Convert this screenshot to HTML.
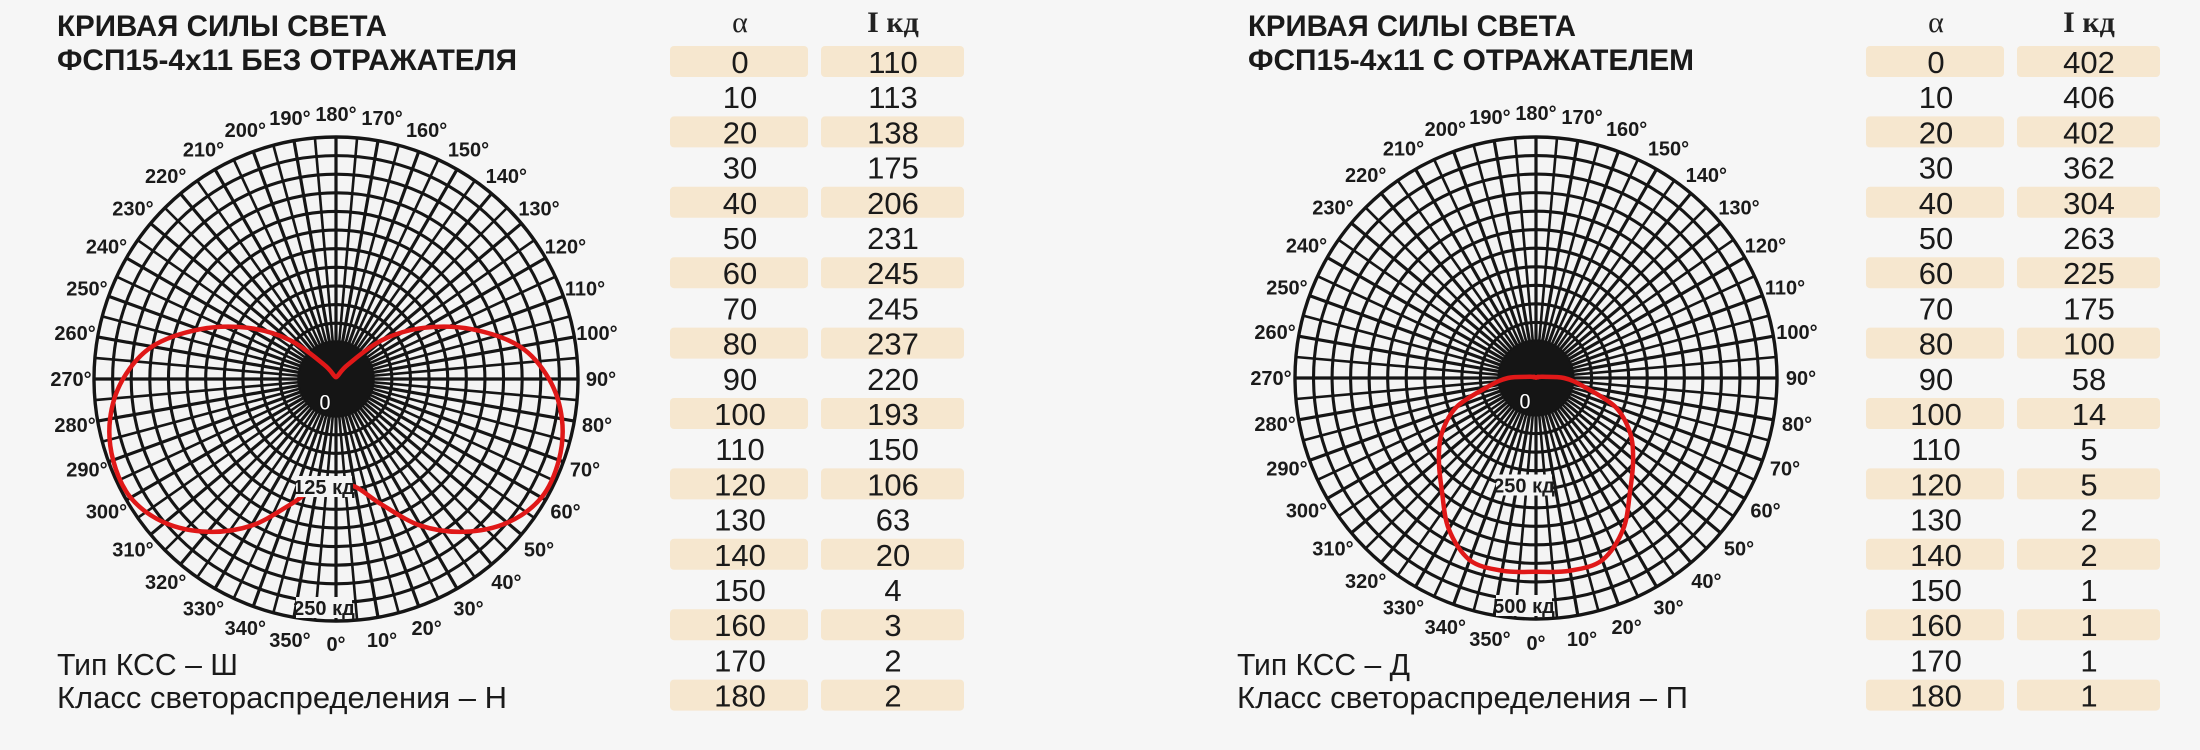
<!DOCTYPE html>
<html><head><meta charset="utf-8"><style>
html,body{margin:0;padding:0;background:#f6f6f6}
svg{display:block}
.t{font-family:"Liberation Sans Narrow","Liberation Sans",sans-serif;fill:#1a1a1a}
.ttl{font-weight:bold;font-size:30px}
.lab{font-weight:bold;font-size:20px}
.num{font-size:31px}
.hd{font-family:"Liberation Serif",serif;font-size:30px;fill:#222}
</style></head><body>
<svg id="s" width="2200" height="750" viewBox="0 0 2200 750" xmlns="http://www.w3.org/2000/svg">
<rect width="2200" height="750" fill="#f6f6f6"/>
<text class="t ttl" x="57" y="36" textLength="330" lengthAdjust="spacingAndGlyphs">КРИВАЯ СИЛЫ СВЕТА</text>
<text class="t ttl" x="57" y="70" textLength="460" lengthAdjust="spacingAndGlyphs">ФСП15-4x11 БЕЗ ОТРАЖАТЕЛЯ</text>
<text class="t" font-size="31" x="57" y="675" textLength="181" lengthAdjust="spacingAndGlyphs">Тип КСС – Ш</text>
<text class="t" font-size="31" x="57" y="708" textLength="450" lengthAdjust="spacingAndGlyphs">Класс светораспределения – Н</text>
<text class="t ttl" x="1248" y="36" textLength="328" lengthAdjust="spacingAndGlyphs">КРИВАЯ СИЛЫ СВЕТА</text>
<text class="t ttl" x="1248" y="70" textLength="446" lengthAdjust="spacingAndGlyphs">ФСП15-4x11 С ОТРАЖАТЕЛЕМ</text>
<text class="t" font-size="31" x="1237" y="675" textLength="173" lengthAdjust="spacingAndGlyphs">Тип КСС – Д</text>
<text class="t" font-size="31" x="1237" y="708" textLength="451" lengthAdjust="spacingAndGlyphs">Класс светораспределения – П</text>
</svg>
<script>
const angles = [0,10,20,30,40,50,60,70,80,90,100,110,120,130,140,150,160,170,180];
const intensityLeft = [110,113,138,175,206,231,245,245,237,220,193,150,106,63,20,4,3,2,2];
const intensityRight = [402,406,402,362,304,263,225,175,100,58,14,5,5,2,2,1,1,1,1];
const maxLeft = 250, maxRight = 500;
const scaleLabelsLeft = ["125 кд","250 кд"];
const scaleLabelsRight = ["250 кд","500 кд"];

const NS="http://www.w3.org/2000/svg";
const svg=document.getElementById('s');
function mk(tag,attrs,parent){const e=document.createElementNS(NS,tag);for(const k in attrs)e.setAttribute(k,attrs[k]);(parent||svg).appendChild(e);return e;}

function polar(cx,cy,R,vals,maxV,labels,side){
  const g=mk('g',{});
  
  
  mk('circle',{cx:cx,cy:cy,r:R,fill:'#f4f4f4'},g);
  const rr=v=>v/maxV*R;
  const pt=(a,v,s)=>{const t=a*Math.PI/180;return [cx+s*rr(v)*Math.sin(t),cy+rr(v)*Math.cos(t)];};
  const nR=13;
  for(let i=1;i<=nR;i++){
    const c=mk('circle',{cx:cx,cy:cy,r:R*i/nR,fill:'none',stroke:'#151515','stroke-width':i==nR?3.4:3.1},g);
    
    
  }
  for(let a=0;a<360;a+=5){
    const t=a*Math.PI/180;
    const l=mk('line',{x1:cx,y1:cy,x2:cx+R*Math.sin(t),y2:cy+R*Math.cos(t),stroke:'#151515','stroke-width':a%10==0?3.2:2.6},g);
    
    
  }
  mk('circle',{cx:cx,cy:cy,r:37,fill:'#151515'},g);
  for(let a=0;a<360;a+=10){
    const t=a*Math.PI/180, L=265;
    const tt=mk('text',{x:cx+L*Math.sin(t),y:cy+L*Math.cos(t)+7,'text-anchor':'middle',class:'t lab'},g);
    tt.textContent=a+'°';
    
    
  }
  const pts=[];
  for(let i=0;i<angles.length;i++)pts.push(pt(angles[i],vals[i],1));
  for(let i=angles.length-2;i>0;i--)pts.push(pt(angles[i],vals[i],-1));
  const n=pts.length;let d='M'+pts[0][0].toFixed(1)+','+pts[0][1].toFixed(1);
  for(let i=0;i<n;i++){
    const p0=pts[(i-1+n)%n],p1=pts[i],p2=pts[(i+1)%n],p3=pts[(i+2)%n];
    const c1=[p1[0]+(p2[0]-p0[0])/6,p1[1]+(p2[1]-p0[1])/6];
    const c2=[p2[0]-(p3[0]-p1[0])/6,p2[1]-(p3[1]-p1[1])/6];
    d+=' C'+c1[0].toFixed(1)+','+c1[1].toFixed(1)+' '+c2[0].toFixed(1)+','+c2[1].toFixed(1)+' '+p2[0].toFixed(1)+','+p2[1].toFixed(1);
  }
  const cv=mk('path',{d:d+'Z',fill:'none',stroke:'#e01818','stroke-width':4.5,'stroke-linejoin':'round'},g);
  
  
  [[labels[0],maxV/2],[labels[1],maxV]].forEach((s,k)=>{
    const y=cy+rr(s[1])-6;
    mk('rect',{x:cx-40,y:y-18,width:56,height:21,fill:'#f4f4f4'},g);
    const t=mk('text',{x:cx-12,y:y,'text-anchor':'middle',class:'t lab'},g);
    t.textContent=s[0];
    
    
  });
  const z=mk('text',{x:cx-11,y:cy+31,'text-anchor':'middle',class:'t',style:'font-weight:bold;font-size:22px;fill:#fff;stroke:#111;stroke-width:1'},g);
  z.textContent='0';
  
  
}
function table(ax,ix,vals,side){
  const g=mk('g',{});
  
  
  const h1=mk('text',{x:ax+70,y:32,'text-anchor':'middle',class:'hd'},g);h1.textContent='α';
  
  
  const h2=mk('text',{x:ix+72,y:32,'text-anchor':'middle',class:'hd','font-weight':'bold'},g);h2.textContent='I кд';
  
  
  for(let i=0;i<angles.length;i++){
    const y=62+i*35.2;
    if(i%2==0){
      mk('rect',{x:ax,y:y-16,width:138,height:31,rx:4,fill:'#f6e7cf'},g);
      mk('rect',{x:ix,y:y-16,width:143,height:31,rx:4,fill:'#f6e7cf'},g);
    }
    const a=mk('text',{x:ax+70,y:y+11,'text-anchor':'middle',class:'t num'},g);a.textContent=angles[i];
    
    
    const v=mk('text',{x:ix+72,y:y+11,'text-anchor':'middle',class:'t num'},g);v.textContent=vals[i];
    
    
  }
}
polar(336,379,242,intensityLeft,maxLeft,scaleLabelsLeft,'left');
polar(1536,378,241,intensityRight,maxRight,scaleLabelsRight,'right');
table(670,821,intensityLeft,'left');
table(1866,2017,intensityRight,'right');
</script>
</body></html>
